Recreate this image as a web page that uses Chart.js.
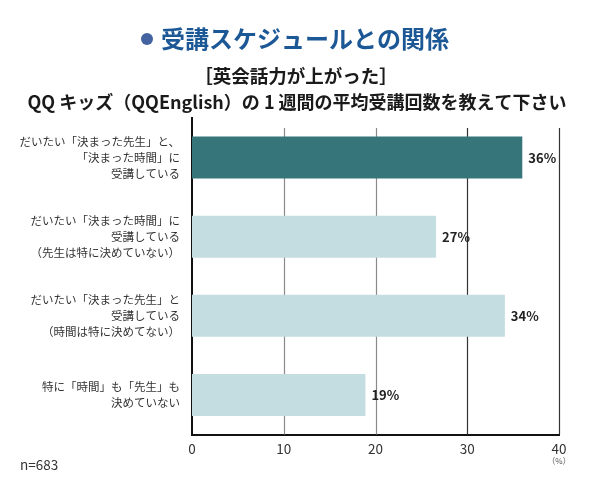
<!DOCTYPE html>
<html>
<head>
<meta charset="utf-8">
<script src="https://cdn.jsdelivr.net/npm/chart.js@4/dist/chart.umd.min.js"></script>
<style>
  html, body { margin: 0; padding: 0; background: #fff; }
  #wrap { width: 596px; height: 485px; position: relative; }
</style>
</head>
<body>
<div id="wrap"><canvas id="scheduleChart"></canvas></div>
<script>
const categories = [
  ['だいたい「決まった先生」と、', '「決まった時間」に', '受講している'],
  ['だいたい「決まった時間」に', '受講している', '（先生は特に決めていない）'],
  ['だいたい「決まった先生」と', '受講している', '（時間は特に決めてない）'],
  ['特に「時間」も「先生」も', '決めていない']
];
const shares = [36.0, 26.6, 34.1, 18.9];
const shareLabels = ['36%', '27%', '34%', '19%'];
const xTicks = [0, 10, 20, 30, 40];

const titleText = '受講スケジュールとの関係';
const subtitleLines = ['［英会話力が上がった］', 'QQ キッズ（QQEnglish）の 1 週間の平均受講回数を教えて下さい'];
const sampleNote = 'n=683';

const FONT = '"Noto Sans CJK JP", "Noto Sans", sans-serif';

// vertical grid lines, starting a little below the top of the plot
const gridLines = {
  id: 'gridLines',
  beforeDatasetsDraw(chart) {
    const ctx = chart.ctx;
    const xs = chart.scales.x;
    const area = chart.chartArea;
    ctx.save();
    ctx.lineWidth = 1.2;
    xTicks.slice(1).forEach(t => {
      const x = Math.round(xs.getPixelForValue(t)) + 0.5;
      ctx.strokeStyle = t >= 30 ? '#333' : '#8a8a8a';
      ctx.beginPath();
      ctx.moveTo(x, area.top + 10);
      ctx.lineTo(x, area.bottom);
      ctx.stroke();
    });
    ctx.restore();
  }
};

// header, value labels, (%) unit and n= note
const decorations = {
  id: 'decorations',
  afterDraw(chart) {
    const ctx = chart.ctx;
    ctx.save();

    // main title with bullet
    ctx.font = 'bold 24px ' + FONT;
    ctx.textBaseline = 'middle';
    ctx.textAlign = 'left';
    const tw = ctx.measureText(titleText).width;
    const tx = 305 - tw / 2;
    ctx.fillStyle = '#1d5896';
    ctx.fillText(titleText, tx, 39);
    ctx.beginPath();
    ctx.arc(tx - 14, 39, 6, 0, Math.PI * 2);
    ctx.fillStyle = '#42639f';
    ctx.fill();

    // subtitle
    ctx.fillStyle = '#1a1a1a';
    ctx.textAlign = 'center';
    ctx.font = 'bold 18.5px ' + FONT;
    ctx.fillText(subtitleLines[0], 296, 76);
    ctx.font = 'bold 18px ' + FONT;
    ctx.fillText(subtitleLines[1], 297, 102);

    // value labels at bar ends
    const meta = chart.getDatasetMeta(0);
    ctx.font = 'bold 13px ' + FONT;
    ctx.textAlign = 'left';
    ctx.fillStyle = '#222';
    meta.data.forEach((bar, i) => {
      ctx.fillText(shareLabels[i], bar.x + 6, bar.y);
    });

    // unit under the last tick
    const xs = chart.scales.x;
    ctx.font = '8px ' + FONT;
    ctx.textAlign = 'center';
    ctx.fillStyle = '#555';
    ctx.fillText('（%）', xs.getPixelForValue(40), 461);

    // sample size
    ctx.font = '13.5px ' + FONT;
    ctx.textAlign = 'left';
    ctx.fillStyle = '#333';
    ctx.fillText(sampleNote, 20, 465);

    ctx.restore();
  }
};

const ctx = document.getElementById('scheduleChart');
new Chart(ctx, {
  type: 'bar',
  data: {
    labels: categories,
    datasets: [{
      data: shares,
      backgroundColor: shares.map((v, i) => i === 0 ? '#36767b' : '#c3dde1'),
      borderWidth: 0,
      categoryPercentage: 1,
      barPercentage: 0.53
    }]
  },
  options: {
    indexAxis: 'y',
    responsive: true,
    maintainAspectRatio: false,
    animation: false,
    devicePixelRatio: 1,
    layout: { padding: { top: 118, right: 37, bottom: 0, left: 0 } },
    plugins: {
      legend: { display: false },
      tooltip: { enabled: false }
    },
    scales: {
      x: {
        min: 0,
        max: 40,
        afterBuildTicks: (scale) => { scale.ticks = xTicks.map(v => ({ value: v })); },
        afterFit: (scale) => { scale.height = 50.5; },
        grid: { display: false, drawTicks: false },
        border: { display: true, color: '#111', width: 2 },
        ticks: {
          padding: 6,
          color: '#333',
          font: { family: FONT, size: 13.5 }
        }
      },
      y: {
        afterFit: (scale) => { scale.width = 192; },
        grid: { display: false, drawTicks: false },
        border: { display: true, color: '#111', width: 2 },
        ticks: {
          padding: 12,
          color: '#333',
          font: { family: FONT, size: 11.5, lineHeight: 1.4 }
        }
      }
    }
  },
  plugins: [gridLines, decorations]
});
</script>
</body>
</html>
